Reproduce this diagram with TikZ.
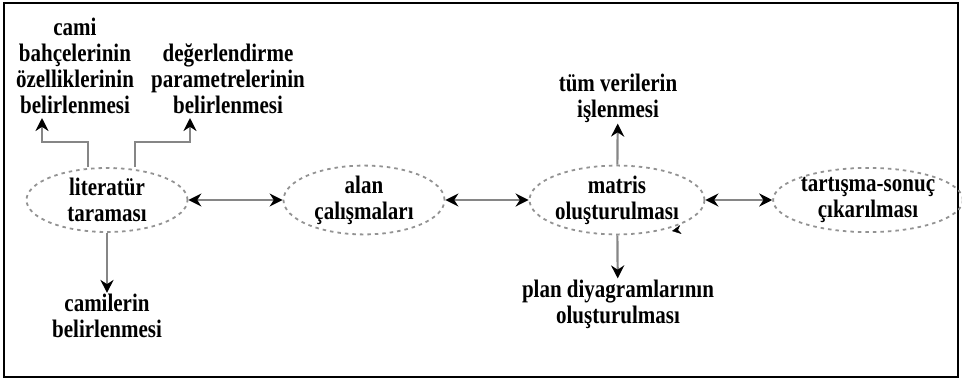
\documentclass[tikz,border=0pt]{standalone}
\usepackage{fontspec}
\usepackage{graphicx}
\setmainfont{Liberation Serif}
\usetikzlibrary{shapes.geometric,arrows.meta}

\newcommand{\tline}[1]{\scalebox{1}[1.2]{#1}}

\tikzset{
  stage/.style={ellipse, draw=gray!85, line width=1.8pt, dash pattern=on 3.5pt off 4pt,
    minimum width=161pt, minimum height=64pt, inner sep=0pt, align=center},
  label/.style={align=center, inner sep=1pt},
  arr/.style={draw=gray!95, line width=2.2pt, -{Stealth[black,length=13pt,width=13pt]}},
  darr/.style={draw=gray!95, line width=2.2pt, {Stealth[black,length=13pt,width=13pt]}-{Stealth[black,length=13pt,width=13pt]}}
}

\begin{document}
\begin{tikzpicture}[x=1pt, y=-1pt, font=\fontsize{21}{26}\selectfont\bfseries]
    \useasboundingbox (0,0) rectangle (962,380);
    % frame
    \draw[line width=1.8pt] (4,3) rectangle (958,377);

    % stages
    \node[stage] (lit) at (107,200) {\tline{literatür}\\\tline{taraması}};
    \node[stage] (alan) at (364,200) {\tline{alan}\\\tline{çalışmaları}};
    \node[stage] (matris) at (617,200) {\tline{matris}\\\tline{oluşturulması}};
    \node[stage] (sonuc) at (868,200) {\tline{tartışma-sonuç}\\\tline{çıkarılması}};

    % side tasks
    \node[label] (cami) at (75,66) {\tline{cami}\\\tline{bahçelerinin}\\\tline{özelliklerinin}\\\tline{belirlenmesi}};
    \node[label] (deger) at (228,79) {\tline{değerlendirme}\\\tline{parametrelerinin}\\\tline{belirlenmesi}};
    \node[label] (camiler) at (107,316) {\tline{camilerin}\\\tline{belirlenmesi}};
    \node[label] (veri) at (618,98) {\tline{tüm verilerin}\\\tline{işlenmesi}};
    \node[label] (plan) at (618,304) {\tline{plan diyagramlarının}\\\tline{oluşturulması}};
    \coordinate (c1) at (42,118);
    \coordinate (c2) at (190,118);

    % main flow
    \draw[darr] (lit) -- (alan);
    \draw[darr] (alan) -- (matris);
    \draw[darr] (matris) -- (sonuc);

    % branches
    \draw[arr] ([xshift=-19pt]lit.north) -- ++(0,-25) -| (c1);
    \draw[arr] ([xshift=28pt]lit.north) -- ++(0,-25) -| (c2);
    \draw[arr] (lit) -- (camiler);
    \draw[arr] (matris) -- (veri);
    \draw[arr] (matris) -- (plan);
    \draw[-{Stealth[black,length=9pt,width=9pt]}] (matris.center) ++(61,30) -- ++(-6,1);
\end{tikzpicture}
\end{document}
